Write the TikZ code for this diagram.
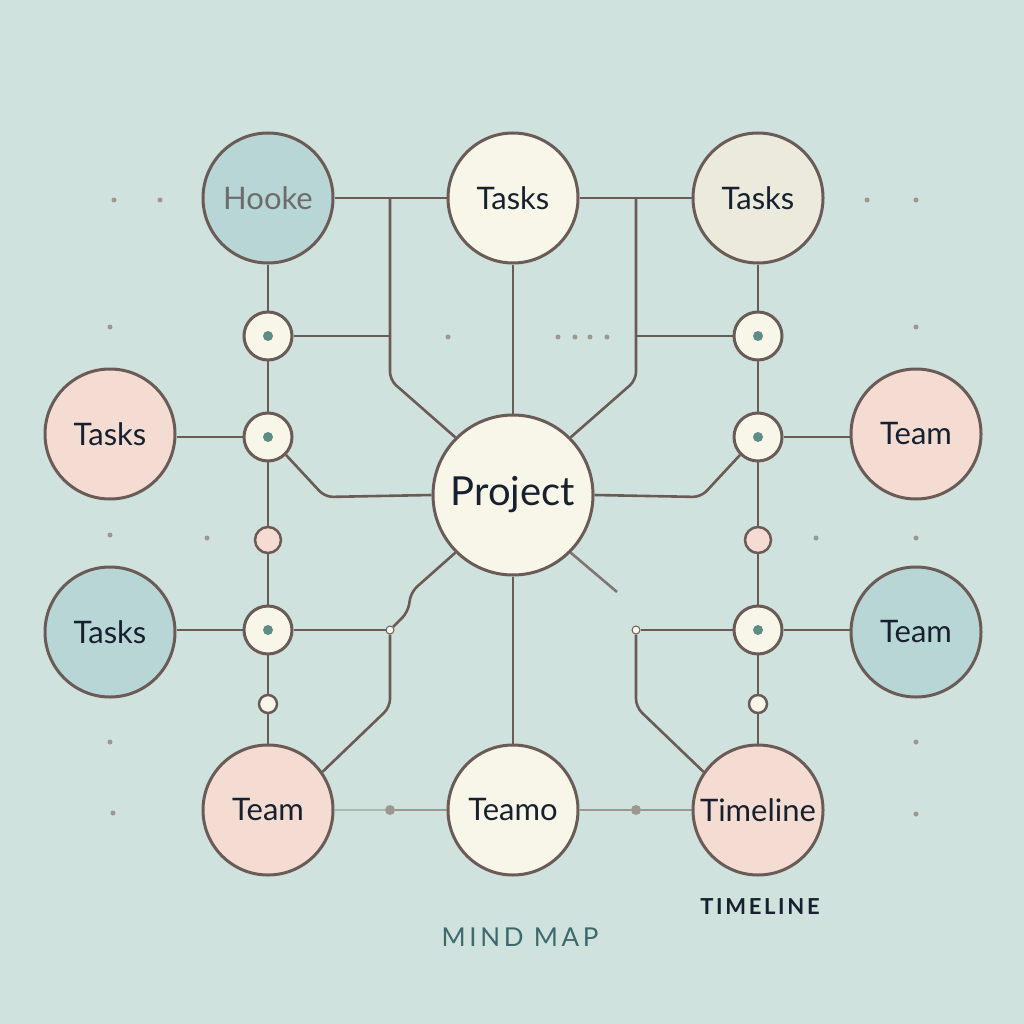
\documentclass[tikz,border=0pt]{standalone}
\usepackage{fontspec}
\setmainfont{Lato}
\definecolor{bgc}{HTML}{D0E2DD}
\definecolor{lc}{HTML}{6B5B56}
\definecolor{teal}{HTML}{B8D6D5}
\definecolor{cream}{HTML}{F8F5E9}
\definecolor{gcream}{HTML}{ECE9DD}
\definecolor{pink}{HTML}{F4DCD2}
\definecolor{txt}{HTML}{16202E}
\definecolor{dotc}{HTML}{5E8C86}
\definecolor{greyd}{HTML}{9C9891}
\definecolor{mindc}{HTML}{3C6A6C}
\pgfdeclarelayer{bgl}
\pgfdeclarelayer{edges}
\pgfsetlayers{bgl,edges,main}
\tikzset{
  big/.style={circle, draw=lc, line width=3pt, minimum size=130pt, inner sep=0pt,
    font=\fontsize{31}{34}\selectfont, text=txt},
  junc/.style={circle, draw=lc, line width=3pt, fill=cream, minimum size=48pt, inner sep=0pt},
  jdot/.style={circle, fill=dotc, minimum size=10pt, inner sep=0pt},
  pinkdot/.style={circle, draw=lc, line width=2.5pt, fill=pink, minimum size=26pt, inner sep=0pt},
  whitedot/.style={circle, draw=lc, line width=2.5pt, fill=cream, minimum size=18pt, inner sep=0pt},
  tinydot/.style={circle, fill=cream, draw=lc, line width=1pt, minimum size=8pt, inner sep=0pt},
  greydot/.style={circle, fill=greyd, minimum size=10pt, inner sep=0pt},
  deco/.style={circle, fill=greyd, minimum size=5pt, inner sep=0pt},
  conn/.style={draw=lc, line width=2.6pt, rounded corners=8pt},
  faint/.style={draw=greyd, line width=2pt},
}
\begin{document}
\begin{tikzpicture}[x=1pt,y=-1pt]
\useasboundingbox (0,0) rectangle (1024,1024);
\begin{pgfonlayer}{bgl}
\fill[bgc] (0,0) rectangle (1024,1024);
\end{pgfonlayer}

% big nodes
\node[big, fill=teal, text=gray!85!black] (hooke) at (268,198) {Hooke};
\node[big, fill=cream] (tc) at (513,198) {Tasks};
\node[big, fill=gcream] (tr) at (758,198) {Tasks};
\node[big, fill=pink] (tl1) at (110,434) {Tasks};
\node[big, fill=pink] (tmr1) at (916,434) {Team};
\node[big, fill=teal] (tl2) at (110,632) {Tasks};
\node[big, fill=teal] (tmr2) at (916,632) {Team};
\node[big, fill=pink] (tbl) at (268,810) {Team};
\node[big, fill=cream] (tbc) at (513,810) {Teamo};
\node[big, fill=pink] (tbr) at (758,810) {Timeline};
\node[big, fill=cream, minimum size=160pt, font=\fontsize{40}{44}\selectfont] (prj) at (513,495) {Project};

% junctions
\foreach \n/\x/\y in {ja/268/336, jb/268/437, jc/268/630, jd/758/336, je/758/437, jf/758/630}{
  \node[junc] (\n) at (\x,\y) {};
  \node[jdot] at (\x,\y) {};
}
\node[pinkdot] (pl) at (268,540) {};
\node[pinkdot] (pr) at (758,540) {};
\node[whitedot] (wl) at (268,704) {};
\node[whitedot] (wr) at (758,704) {};
\node[tinydot] (sl) at (390,630) {};
\node[tinydot] (sr) at (636,630) {};
\node[greydot] (gl) at (390,810) {};
\node[greydot] (gr) at (636,810) {};

% helper coordinates
\coordinate (tl) at (390,198);
\coordinate (tr2) at (636,198);
\coordinate (bl) at (390,336);
\coordinate (br) at (636,336);
\coordinate (fadeR) at (617,592);

\begin{pgfonlayer}{edges}
% verticals
\draw[conn] (hooke.south) -- (tbl.north);
\draw[conn] (tr.south) -- (tbr.north);
\draw[conn] (tc.south) -- (prj.north);
\draw[conn] (prj.south) -- (tbc.north);
% top horizontals
\draw[conn] (hooke.east) -- (tc.west);
\draw[conn] (tc.east) -- (tr.west);
% left upper branch
\draw[conn] (tl) -- (390,380) -- (prj.135);
\draw[conn] (ja.east) -- (bl);
\draw[conn] (jb.south east) -- (325,497) -- (prj.west);
\draw[conn] (jb.west) -- (jb.west -| tl1.east);
% right upper branch
\draw[conn] (tr2) -- (636,380) -- (prj.45);
\draw[conn] (jd.west) -- (br);
\draw[conn] (je.south west) -- (701,497) -- (prj.east);
\draw[conn] (je.east) -- (je.east -| tmr1.west);
% lower left
\draw[conn] (jc.west) -- (jc.west -| tl2.east);
\draw[conn] (jc.east) -- (sl);
\draw[conn] (sl.south) -- (390,707) -- (tbl.35);
\draw[conn] (prj.225) -- (411,592) -- (408,612) -- (sl.north east);
% lower right
\draw[conn] (jf.east) -- (jf.east -| tmr2.west);
\draw[conn] (jf.west) -- (sr);
\draw[conn] (sr.south) -- (636,707) -- (tbr.145);
\draw[conn, draw=lc!80!bgc] (prj.315) -- (fadeR);
% bottom faint
\draw[faint, draw=greyd!60!bgc] (tbl.east) -- (gl);
\draw[faint] (gl) -- (tbc.west);
\draw[faint] (tbc.east) -- (gr);
\draw[faint] (gr) -- (tbr.west);
\end{pgfonlayer}

% decorative dots
\foreach \x/\y in {114/200, 160/200, 110/327, 110/535, 207/538, 110/742, 113/813,
  867/200, 916/200, 916/327, 816/538, 916/538, 916/742, 916/814,
  448/337, 558/337, 575/337, 590/337, 607/337}{
  \node[deco] at (\x,\y) {};
}

% titles
\node[font=\fontsize{26}{28}\selectfont\addfontfeatures{LetterSpace=14}, text=mindc] (mind) at (520,937) {MIND MAP};
\node[font=\fontsize{22}{24}\selectfont\bfseries\addfontfeatures{LetterSpace=12}, text=txt] (tline) at (760,907) {TIMELINE};
\end{tikzpicture}
\end{document}
